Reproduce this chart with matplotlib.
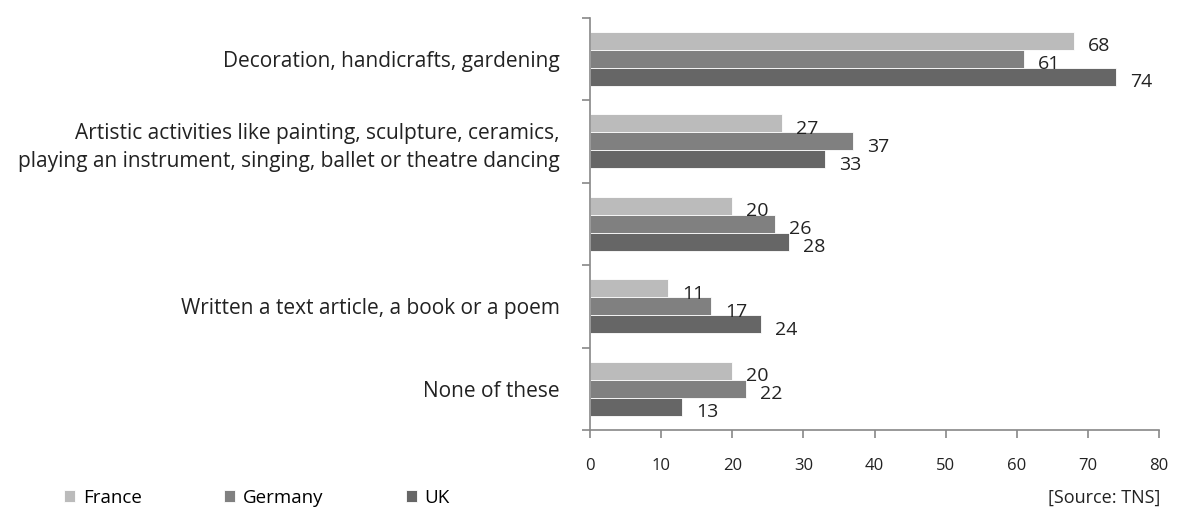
import matplotlib
matplotlib.use("Agg")
import matplotlib.pyplot as plt
import numpy as np

categories = [
    "Decoration, handicrafts, gardening",
    "Artistic activities like painting, sculpture, ceramics,\nplaying an instrument, singing, ballet or theatre dancing",
    "",
    "Written a text article, a book or a poem",
    "None of these",
]
series_names = ["France", "Germany", "UK"]
france = [68, 27, 20, 11, 20]
germany = [61, 37, 26, 17, 22]
uk = [74, 33, 28, 24, 13]
x_ticks = [0, 10, 20, 30, 40, 50, 60, 70, 80]
colors = ["#BBBBBB", "#808080", "#666666"]

plt.rcParams['font.family'] = ['Open Sans', 'DejaVu Sans']
W, H = 1179, 514
fig = plt.figure(figsize=(W / 100, H / 100), dpi=100)
ax = fig.add_axes([590 / W, (514 - 430) / H, (1159 - 590) / W, (430 - 17.5) / H])

n = len(categories)
ypos = np.arange(n)
h = 0.22
offsets = [-h, 0, h]
all_series = [france, germany, uk]
for s, (vals, col, off, name) in enumerate(zip(all_series, colors, offsets, series_names)):
    bars = ax.barh(ypos + off, vals, height=h, color=col, edgecolor="white", linewidth=0.6, label=name)
    for b, v in zip(bars, vals):
        ax.annotate(str(v), xy=(v, b.get_y() + b.get_height() / 2), xytext=(10, -4),
                    textcoords="offset points", va="center", ha="left", fontsize=14, color="#222222")

ax.set_xlim(0, 80)
ax.set_ylim(n - 0.5, -0.5)
ax.set_xticks(x_ticks)
ax.set_xticklabels([str(t) for t in x_ticks], fontsize=12, color="#222222")
ax.set_yticks(ypos)
ax.set_yticklabels(categories, fontsize=15, color="#222222", linespacing=1.45)
ax.tick_params(axis="y", which="major", length=0, pad=22)
ax.set_yticks(np.arange(-0.5, n, 1.0), minor=True)
ax.tick_params(axis="y", which="minor", length=6, color="#888888", width=1.2)
ax.tick_params(axis="x", length=6, color="#888888", width=1.2, pad=14, direction="out")
for sp in ["top", "right"]:
    ax.spines[sp].set_visible(False)
for sp in ["left", "bottom"]:
    ax.spines[sp].set_color("#888888")
    ax.spines[sp].set_linewidth(1.2)

handles, labels = ax.get_legend_handles_labels()
leg = fig.legend(handles, labels, loc="center left", bbox_to_anchor=(64 / W, (514 - 498) / H), ncol=3,
                 frameon=False, fontsize=13.5, handlelength=0.6, handleheight=0.6,
                 columnspacing=4.4, handletextpad=0.4, borderaxespad=0.0, borderpad=0.0)
fig.text(1160 / W, (514 - 498) / H, "[Source: TNS]", ha="right", va="center", fontsize=13, color="#222222")

fig.savefig("out.png", dpi=100, facecolor="white")
